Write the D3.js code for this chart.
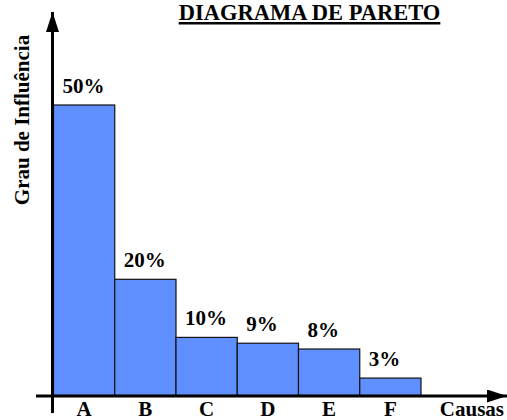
<!DOCTYPE html>
<html>
<head>
<meta charset="utf-8">
<script src="https://cdn.jsdelivr.net/npm/d3@7"></script>
<style>
  html, body { margin: 0; padding: 0; background: #fff; }
  svg { display: block; }
  text { font-family: "Liberation Serif", "Times New Roman", serif; font-weight: bold; fill: #000; }
</style>
</head>
<body>
<script>
// Pareto data: causes and their share of influence (%)
const categories = ["A", "B", "C", "D", "E", "F"];
const values = [50, 20, 10, 9, 8, 3];
const valueLabels = ["50%", "20%", "10%", "9%", "8%", "3%"];
const titleText = "DIAGRAMA DE PARETO";
const yTitle = "Grau de Influência";
const xTitle = "Causas";

const W = 507, H = 420;
const svg = d3.select("body").append("svg").attr("width", W).attr("height", H);

const x = d3.scaleBand().domain(categories).range([53.5, 421]).padding(0);
const y = d3.scaleLinear().domain([0, 50]).range([395.5, 105]);

// Arrow marker for the axes
const defs = svg.append("defs");
defs.append("marker")
  .attr("id", "arrow")
  .attr("viewBox", "0 0 10 10")
  .attr("refX", 10).attr("refY", 5)
  .attr("markerUnits", "userSpaceOnUse")
  .attr("markerWidth", 20).attr("markerHeight", 13)
  .attr("orient", "auto")
  .attr("preserveAspectRatio", "none")
  .append("path").attr("d", "M0,0 L10,5 L0,10 Z").attr("fill", "#000");

// Bars
svg.append("g").selectAll("rect").data(values).join("rect")
  .attr("x", (d, i) => x(categories[i]))
  .attr("y", d => y(d))
  .attr("width", x.bandwidth())
  .attr("height", d => y(0) - y(d))
  .attr("fill", "#6090ff")
  .attr("stroke", "#111")
  .attr("stroke-width", 1.2);

// Value labels above bars
svg.append("g").selectAll("text").data(values).join("text")
  .attr("x", (d, i) => x(categories[i]) + 9)
  .attr("y", d => y(d) - 12)
  .attr("font-size", 21)
  .text((d, i) => valueLabels[i]);

// Axes with arrowheads
svg.append("line")
  .attr("x1", 36).attr("x2", 507)
  .attr("y1", 396).attr("y2", 396)
  .attr("stroke", "#000").attr("stroke-width", 3)
  .attr("marker-end", "url(#arrow)");
svg.append("line")
  .attr("x1", 52.5).attr("x2", 52.5)
  .attr("y1", 413).attr("y2", 12)
  .attr("stroke", "#000").attr("stroke-width", 3)
  .attr("marker-end", "url(#arrow)");

// Category labels
svg.append("g").selectAll("text").data(categories).join("text")
  .attr("x", d => x(d) + x.bandwidth() / 2)
  .attr("y", 416)
  .attr("text-anchor", "middle")
  .attr("font-size", 21)
  .text(d => d);

svg.append("text")
  .attr("x", 504).attr("y", 416)
  .attr("text-anchor", "end")
  .attr("font-size", 21)
  .text(xTitle);

// Y axis title
svg.append("text")
  .attr("transform", "translate(29,120) rotate(-90)")
  .attr("text-anchor", "middle")
  .attr("font-size", 21)
  .text(yTitle);

// Underlined chart title
const title = svg.append("text")
  .attr("x", 309.5).attr("y", 20)
  .attr("text-anchor", "middle")
  .attr("font-size", 22.5)
  .text(titleText);
const tw = title.node().getComputedTextLength();
svg.append("rect")
  .attr("x", 309.5 - tw / 2).attr("y", 22)
  .attr("width", tw).attr("height", 2.5)
  .attr("fill", "#000");
</script>
</body>
</html>
